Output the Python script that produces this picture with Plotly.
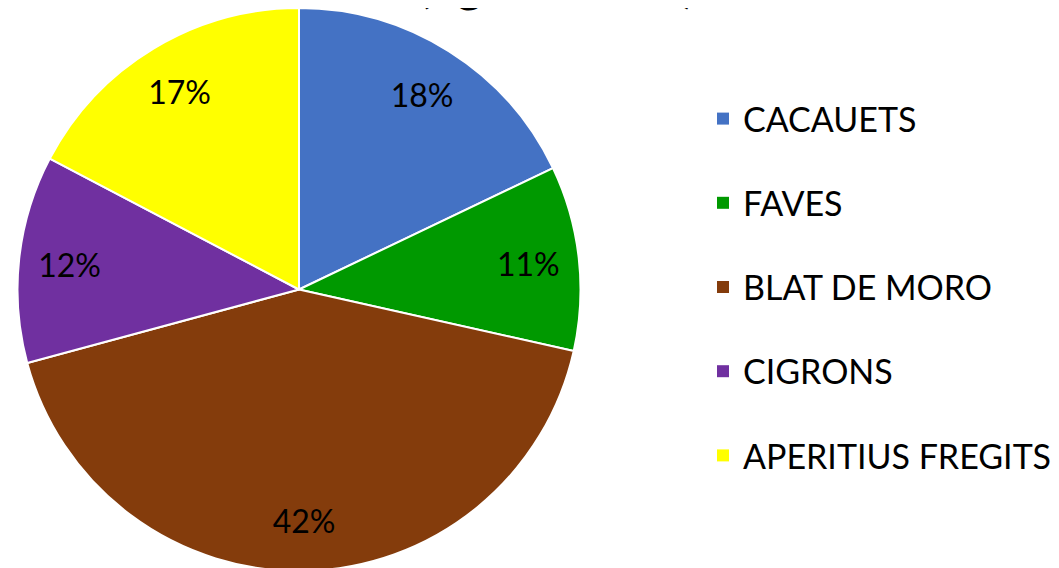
import plotly.graph_objects as go

categories = ["CACAUETS", "FAVES", "BLAT DE MORO", "CIGRONS", "APERITIUS FREGITS"]
values = [17.9, 10.6, 42.3, 11.9, 17.3]
colors = ["#4472C4", "#009900", "#843C0C", "#7030A0", "#FFFF00"]
title_text = "(kg/habitant)"

W, H = 1059, 568
FONT = "Lato, Open Sans, sans-serif"
OFF = 8  # page body margin

cx, r = 299 - OFF, 281.5
dom_x = [(cx - r) / W, (cx + r) / W]
dom_y = [1 - 2 * r / H, 1]

common = dict(
    labels=categories, values=values, sort=False, direction="clockwise",
    rotation=0, domain=dict(x=dom_x, y=dom_y), showlegend=False,
)

fig = go.Figure()
# the visible pie
fig.add_trace(go.Pie(
    textinfo="none", hoverinfo="label+percent",
    marker=dict(colors=colors, line=dict(color="white", width=2)),
    **common,
))
# transparent ring on top carrying the percentage labels in the outer part of the slices
fig.add_trace(go.Pie(
    hole=0.64,
    texttemplate="%{percent:.0%}",
    textposition="inside",
    insidetextorientation="horizontal",
    textfont=dict(family=FONT, size=32, color="black"),
    hoverinfo="skip",
    marker=dict(colors=["rgba(0,0,0,0)"] * len(categories), line=dict(width=0)),
    **common,
))

for name, col in zip(categories, colors):
    fig.add_trace(go.Scatter(
        x=[None], y=[None], mode="markers", name=name,
        legendgroup=name,
        marker=dict(symbol="square", size=14, color=col),
    ))

fig.update_layout(
    width=W, height=H,
    margin=dict(l=0, r=0, t=0, b=0),
    paper_bgcolor="white", plot_bgcolor="white",
    xaxis=dict(visible=False), yaxis=dict(visible=False),
    legend=dict(
        x=(703 - OFF) / W, xanchor="left", y=1 - (90 - OFF) / H, yanchor="top",
        font=dict(family=FONT, size=34, color="black"),
        tracegroupgap=37, itemsizing="constant",
        bgcolor="rgba(0,0,0,0)",
    ),
    annotations=[dict(
        text="<b>" + title_text + "</b>", x=(556 - OFF) / W, y=1,
        xref="paper", yref="paper",
        xanchor="center", yanchor="bottom", yshift=-6, showarrow=False,
        font=dict(family=FONT, size=48, color="black"),
    )],
)

fig.write_html("out.html")
